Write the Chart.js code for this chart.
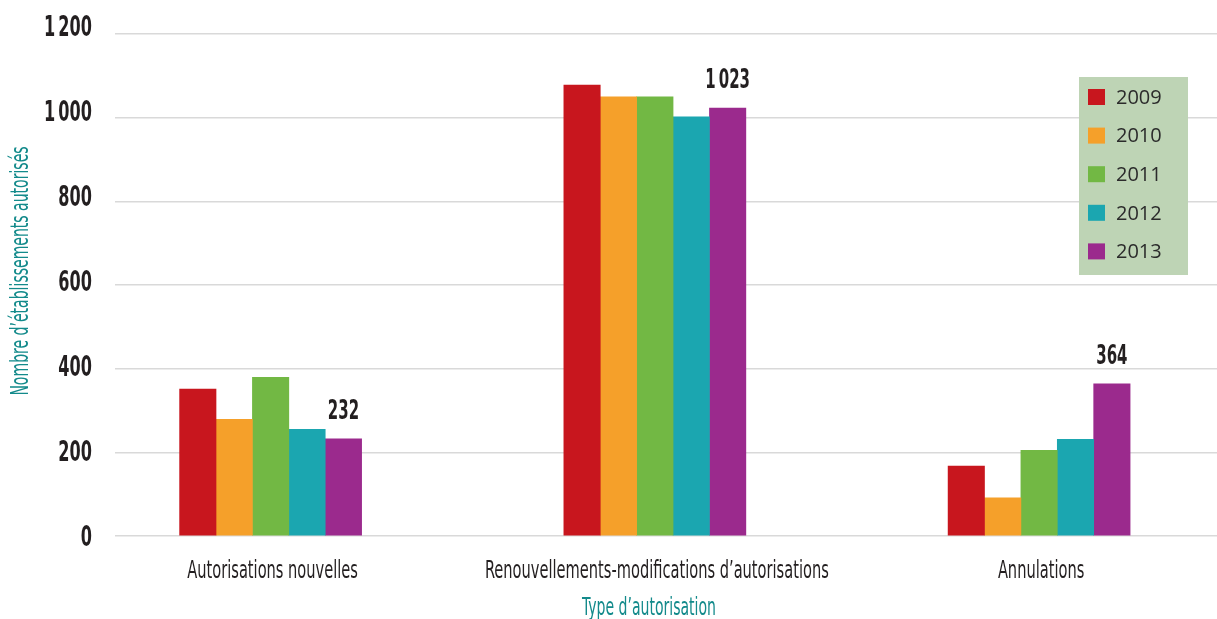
<!DOCTYPE html>
<html lang="fr">
<head>
<meta charset="utf-8">
<title>Établissements autorisés par type d'autorisation</title>
<script src="https://cdn.jsdelivr.net/npm/chart.js@4.4.1/dist/chart.umd.min.js"></script>
<style>
  html, body { margin: 0; padding: 0; background: #fff; }
  #wrap { width: 1217px; height: 619px; position: relative; }
</style>
</head>
<body>
<div id="wrap"><canvas id="authChart"></canvas></div>
<script>
// types d'autorisation (axe des x)
const categories = ['Autorisations nouvelles', 'Renouvellements-modifications d\u2019autorisations', 'Annulations'];
const years = ['2009', '2010', '2011', '2012', '2013'];

// nombre d'établissements autorisés, une liste par année
const values2009 = [351, 1078, 167];
const values2010 = [279, 1050, 91];
const values2011 = [379, 1050, 205];
const values2012 = [255, 1002, 231];
const values2013 = [232, 1023, 364];

const yTicks = [0, 200, 400, 600, 800, 1000, 1200];

const colors = ['#c8161e', '#f5a02a', '#72b844', '#1ba6b0', '#9b2a8d'];
const seriesValues = [values2009, values2010, values2011, values2012, values2013];

const condensed = '"DejaVu Sans Condensed", "DejaVu Sans", sans-serif';
const inkColor = '#231f20';
const tealText = '#138a8b';

function fmt(n) {
  return String(n).replace(/\B(?=(\d{3})+(?!\d))/g, '\u2009');
}

// texte resserré horizontalement (police étroite de type Futura Condensed)
function narrowText(ctx, text, x, y, font, sx, align, color) {
  ctx.save();
  ctx.font = font;
  ctx.fillStyle = color;
  ctx.textAlign = align;
  ctx.textBaseline = 'alphabetic';
  ctx.translate(x, y);
  ctx.scale(sx, 1);
  ctx.fillText(text, 0, 0);
  ctx.restore();
}

// étiquettes des axes, dessinées à partir des graduations des échelles
const axisLabels = {
  id: 'axisLabels',
  afterDraw(chart) {
    const ctx = chart.ctx;
    const ys = chart.scales.y;
    const xs = chart.scales.x;
    ys.ticks.forEach(t => {
      const py = ys.getPixelForValue(t.value) - (t.value / 1200) * 8;
      narrowText(ctx, fmt(t.value), 92, py + 10, 'bold 28px ' + condensed, 0.64, 'right', inkColor);
    });
    xs.ticks.forEach(t => {
      narrowText(ctx, categories[t.value], xs.getPixelForValue(t.value) + 2, 578,
        '25px ' + condensed, 0.65, 'center', inkColor);
    });
    narrowText(ctx, 'Type d\u2019autorisation', 649, 615, '24px ' + condensed, 0.65, 'center', tealText);
    ctx.save();
    ctx.translate(28, 271);
    ctx.rotate(-Math.PI / 2);
    narrowText(ctx, 'Nombre d\u2019établissements autorisés', 0, 0, '24px ' + condensed, 0.65, 'center', tealText);
    ctx.restore();
  }
};

// valeurs affichées au-dessus des barres de la dernière année
const lastYearLabels = {
  id: 'lastYearLabels',
  afterDatasetsDraw(chart) {
    const idx = chart.data.datasets.length - 1;
    const meta = chart.getDatasetMeta(idx);
    meta.data.forEach((bar, i) => {
      narrowText(chart.ctx, fmt(chart.data.datasets[idx].data[i].y), bar.x, bar.y - 20,
        'bold 26px ' + condensed, 0.64, 'center', inkColor);
    });
  }
};

// légende dans un encadré vert pâle, par-dessus la grille
const boxLegend = {
  id: 'boxLegend',
  afterDatasetsDraw(chart, args, opts) {
    const ctx = chart.ctx;
    ctx.save();
    ctx.fillStyle = '#bed4b5';
    ctx.fillRect(opts.x, opts.y, opts.w, opts.h);
    ctx.font = '20px "Open Sans", sans-serif';
    ctx.textBaseline = 'middle';
    ctx.textAlign = 'left';
    chart.data.datasets.forEach((ds, i) => {
      const cy = opts.y + 20 + i * 38.6;
      ctx.fillStyle = ds.backgroundColor;
      ctx.fillRect(opts.x + 9, cy - 8, 17, 16);
      ctx.fillStyle = '#2b2b2b';
      ctx.fillText(ds.label, opts.x + 37, cy + 1);
    });
    ctx.restore();
  }
};

new Chart(document.getElementById('authChart'), {
  type: 'bar',
  data: {
    datasets: years.map((year, i) => ({
      label: year,
      data: seriesValues[i].map((v, k) => ({ x: k, y: v })),
      backgroundColor: colors[i],
      borderWidth: 0,
      barThickness: 36.4
    }))
  },
  plugins: [lastYearLabels, boxLegend, axisLabels],
  options: {
    responsive: true,
    maintainAspectRatio: false,
    animation: false,
    layout: { padding: { top: 34, left: 0, right: 0, bottom: 0 } },
    plugins: {
      legend: { display: false },
      tooltip: { enabled: false },
      boxLegend: { x: 1079, y: 77, w: 109, h: 198 }
    },
    scales: {
      x: {
        type: 'linear',
        offset: false,
        min: -0.405,
        max: 2.463,
        afterBuildTicks(scale) {
          scale.ticks = categories.map((c, i) => ({ value: i }));
        },
        afterFit(scale) { scale.height = 83; },
        grid: { display: false, offset: false },
        border: { display: false },
        ticks: { display: false }
      },
      y: {
        min: 0,
        max: 1200,
        afterBuildTicks(scale) {
          scale.ticks = yTicks.map(v => ({ value: v }));
        },
        afterFit(scale) { scale.width = 115; },
        grid: { color: '#d9d9d9', lineWidth: 1.5, drawTicks: false },
        border: { display: false },
        ticks: { display: false }
      }
    }
  }
});
</script>
</body>
</html>
